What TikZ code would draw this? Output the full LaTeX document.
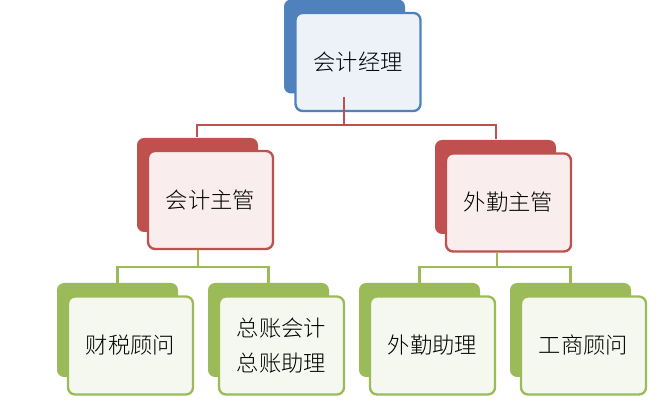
\documentclass[tikz,border=0pt]{standalone}
\usepackage{fontspec}
\setmainfont{Noto Sans CJK SC}
\definecolor{bossblue}{HTML}{4F81BD}
\definecolor{bossred}{HTML}{C0504D}
\definecolor{bossgreen}{HTML}{9BBB59}
\tikzset{
  back/.style={rounded corners=6pt, minimum width=121*0.03cm, minimum height=94*0.03cm, inner sep=0pt},
  front/.style={rounded corners=6pt, draw, line width=2pt, minimum width=125*0.03cm, minimum height=98*0.03cm, inner sep=0pt, font=\fontsize{19}{30}\selectfont\fontspec{Noto Sans CJK SC Light}, align=center},
  wire/.style={line width=2pt}
}
\begin{document}
\begin{tikzpicture}[x=0.03cm,y=-0.03cm]
\useasboundingbox (0,0) rectangle (668,402);
% top
\node[back, fill=bossblue] (mgrb) at (344.5,46.5) {};
\node[front, bossblue, fill=bossblue!10, text=black] (mgr) at (358,62) {会计经理};
% middle
\node[back, fill=bossred] (accb) at (197.5,185) {};
\node[front, bossred, fill=bossred!10, text=black] (acc) at (210.5,200) {会计主管};
\node[back, fill=bossred] (outb) at (495.5,187) {};
\node[front, bossred, fill=bossred!10, text=black] (out) at (508.5,202.5) {外勤主管};
% bottom
\foreach \nm/\x/\txt in {tax/57/财税顾问, gl/208/{总账会计\\总账助理}, fld/359/外勤助理, biz/510/工商顾问}{
  \node[back, fill=bossgreen] (\nm b) at (\x+60.5,330) {};
  \node[front, bossgreen, fill=bossgreen!10, text=black] (\nm) at (\x+73.5,345.5) {\txt};
}
% wires
\coordinate (top) at (344,97);
\coordinate (accup) at (197,137);
\coordinate (outup) at (496,139);
\draw[wire, bossred] (top) |- (270,125) -| (accup);
\draw[wire, bossred] (top) |- (420,125) -| (outup);
\coordinate (accdn) at (198,250);
\coordinate (outdn) at (497,252);
\draw[wire, bossgreen] (accdn) |- (150,267) -| (taxb.north);
\draw[wire, bossgreen] (accdn) |- (240,267) -| (glb.north);
\draw[wire, bossgreen] (outdn) |- (450,267) -| (fldb.north);
\draw[wire, bossgreen] (outdn) |- (540,267) -| (bizb.north);
\end{tikzpicture}
\end{document}
